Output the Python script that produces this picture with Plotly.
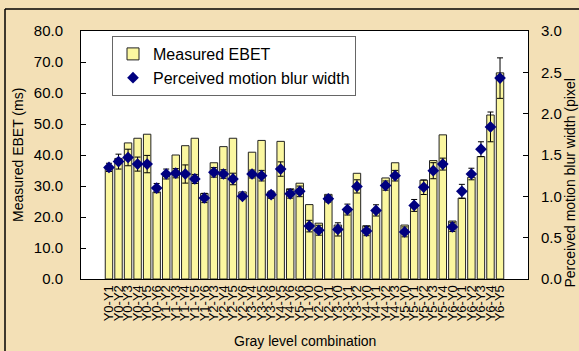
import plotly.graph_objects as go

# Gray level transitions (start - end)
combos = ["Y0-Y1", "Y0-Y2", "Y0-Y3", "Y0-Y4", "Y0-Y5", "Y0-Y6",
          "Y1-Y2", "Y1-Y3", "Y1-Y4", "Y1-Y5", "Y1-Y6",
          "Y2-Y3", "Y2-Y4", "Y2-Y5", "Y2-Y6",
          "Y3-Y4", "Y3-Y5", "Y3-Y6",
          "Y4-Y5", "Y4-Y6", "Y5-Y6",
          "Y1-Y0", "Y2-Y0", "Y2-Y1", "Y3-Y0", "Y3-Y1", "Y3-Y2",
          "Y4-Y0", "Y4-Y1", "Y4-Y2", "Y4-Y3",
          "Y5-Y0", "Y5-Y1", "Y5-Y2", "Y5-Y3", "Y5-Y4",
          "Y6-Y0", "Y6-Y1", "Y6-Y2", "Y6-Y3", "Y6-Y4", "Y6-Y5"]

# Measured EBET (ms)
ebet_ms = [35.7, 38.9, 43.9, 45.4, 46.7, 28.1,
           33.1, 40.0, 43.0, 45.4, 27.6,
           37.5, 42.7, 45.4, 28.1,
           40.9, 44.7, 28.1,
           44.4, 29.1, 30.9,
           24.0, 18.0, 27.3, 17.4, 22.5, 34.1,
           17.2, 21.8, 32.6, 37.5,
           17.4, 23.1, 31.9, 38.2, 46.5,
           18.7, 26.1, 32.8, 39.5, 52.9, 66.5]

# Perceived motion blur width (pixel) and its spread
blur_px = [1.35, 1.42, 1.47, 1.39, 1.39, 1.10,
           1.27, 1.28, 1.27, 1.21, 0.98,
           1.29, 1.27, 1.21, 1.00,
           1.27, 1.25, 1.02,
           1.33, 1.03, 1.06,
           0.64, 0.59, 0.97, 0.60, 0.84, 1.12,
           0.58, 0.83, 1.13, 1.25,
           0.57, 0.89, 1.11, 1.31, 1.39,
           0.63, 1.06, 1.27, 1.57, 1.84, 2.43]
blur_err = [0.05, 0.09, 0.10, 0.085, 0.105, 0.056,
            0.06, 0.056, 0.11, 0.055, 0.056,
            0.058, 0.052, 0.07, 0.03,
            0.048, 0.064, 0.044,
            0.087, 0.052, 0.064,
            0.07, 0.06, 0.04, 0.08, 0.066, 0.08,
            0.056, 0.068, 0.056, 0.064,
            0.06, 0.072, 0.088, 0.097, 0.072,
            0.056, 0.085, 0.07, 0.09, 0.18, 0.245]

FONT = "Arial, Liberation Sans, sans-serif"
W, H = 579, 351
L, R, T, B = 81, 528, 31, 279   # plot area in pixels


def px_x(px):
    return (px - L) / (R - L)


def px_y(py):
    return (B - py) / (B - T)


fig = go.Figure()
fig.add_trace(go.Bar(
    x=combos, y=ebet_ms, name="Measured EBET",
    marker=dict(color="#FBF7A0", line=dict(color="#222222", width=1)),
    legendgroup="a",
))
fig.add_trace(go.Scatter(
    x=combos, y=blur_px, name="Perceived motion blur width",
    mode="markers", yaxis="y2",
    marker=dict(symbol="diamond", size=9, color="#00007F"),
    error_y=dict(type="data", array=blur_err, color="#000000", thickness=1, width=3),
    legendgroup="b",
))

fig.update_layout(
    width=W, height=H,
    margin=dict(l=L, r=W - R, t=T, b=H - B, pad=0),
    paper_bgcolor="#F3E0B6",
    plot_bgcolor="#FFFFFF",
    font=dict(family=FONT, size=14, color="#000000"),
    bargap=0.22,
    showlegend=True,
    legend=dict(
        x=px_x(112), y=px_y(36), xanchor="left", yanchor="top",
        bgcolor="#FFFFFF", bordercolor="#666666", borderwidth=1,
        font=dict(family=FONT, size=16),
        traceorder="grouped", tracegroupgap=0,
    ),
    xaxis=dict(
        type="category", tickmode="array", tickvals=combos, ticktext=combos,
        tickangle=-90, showline=True, linecolor="#000000",
        linewidth=1, mirror=True, ticks="", tickfont=dict(size=13),
        showgrid=False,
    ),
    yaxis=dict(
        range=[0, 80], dtick=10, tickformat=".1f", showgrid=False,
        showline=True, linecolor="#000000", linewidth=1,
        ticks="inside", ticklen=5, tickcolor="#000000",
        ticklabelstandoff=14, zeroline=False, tickfont=dict(size=15),
    ),
    yaxis2=dict(
        range=[0, 3], dtick=0.5, tickformat=".1f", overlaying="y", side="right",
        showgrid=False, showline=True, linecolor="#000000", linewidth=1,
        ticks="inside", ticklen=5, tickcolor="#000000",
        ticklabelstandoff=9, zeroline=False, tickfont=dict(size=15),
    ),
    annotations=[
        dict(text="Measured EBET (ms)", textangle=-90, xref="paper", yref="paper",
             x=px_x(18), y=0.5, xanchor="center", yanchor="middle",
             showarrow=False, font=dict(size=14)),
        dict(text="Perceived motion blur width (pixel", textangle=-90,
             xref="paper", yref="paper", x=px_x(569), y=px_y(290),
             xanchor="center", yanchor="bottom", showarrow=False,
             font=dict(size=14)),
        dict(text="Gray level combination", xref="paper", yref="paper",
             x=0.5, y=px_y(341), xanchor="center", yanchor="middle",
             showarrow=False, font=dict(size=14)),
    ],
    shapes=[
        dict(type="line", xref="paper", yref="paper",
             x0=px_x(5), x1=px_x(600), y0=px_y(9), y1=px_y(9),
             line=dict(color="#000000", width=1.5)),
        dict(type="line", xref="paper", yref="paper",
             x0=px_x(5), x1=px_x(5), y0=px_y(9), y1=px_y(360),
             line=dict(color="#000000", width=1.5)),
    ],
)

fig.write_html("out.html")
